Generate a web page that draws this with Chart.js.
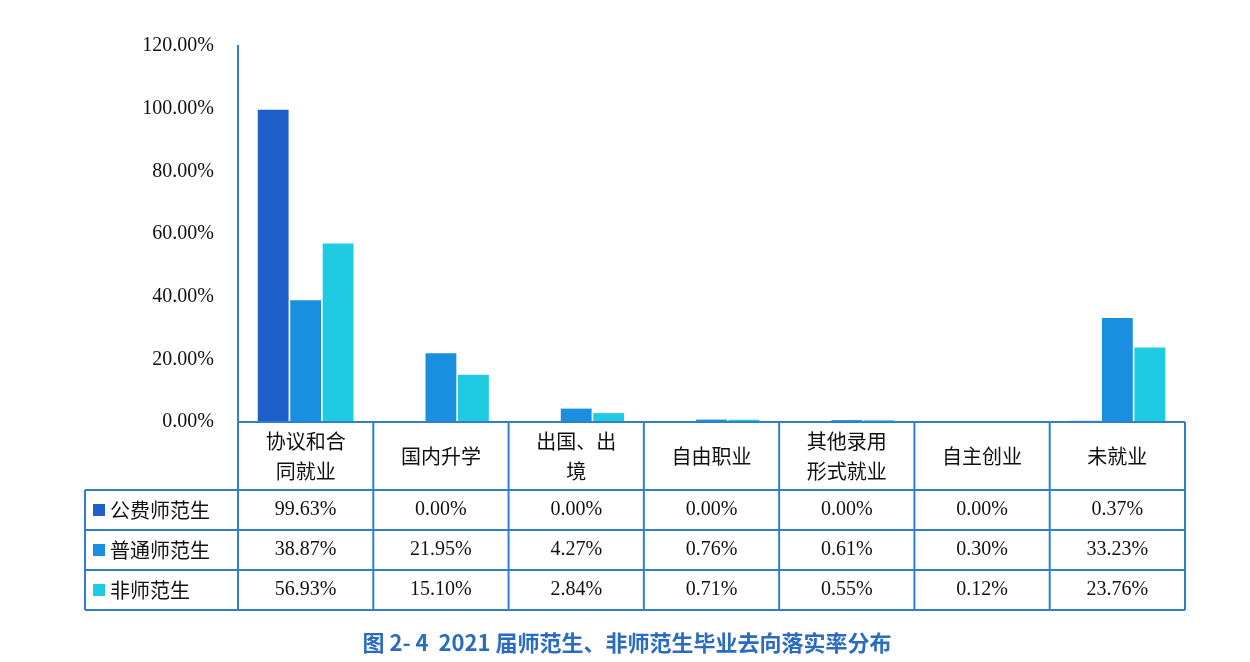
<!DOCTYPE html>
<html><head><meta charset="utf-8">
<script src="https://cdn.jsdelivr.net/npm/chart.js@4"></script>
<style>html,body{margin:0;background:#fff}#w{width:1250px;height:662px}</style>
</head><body><div id="w"><canvas id="c" width="1250" height="662"></canvas></div>
<script>
const categories=["协议和合\n同就业","国内升学","出国、出\n境","自由职业","其他录用\n形式就业","自主创业","未就业"];
const seriesNames=["公费师范生","普通师范生","非师范生"];
const gongfei=[99.63,0.00,0.00,0.00,0.00,0.00,0.37];
const putong=[38.87,21.95,4.27,0.76,0.61,0.30,33.23];
const feishifan=[56.93,15.10,2.84,0.71,0.55,0.12,23.76];
const colors=["#1f5fcc","#1a8fe0","#1ecbe3"];
const caption="图 2- 4  2021 届师范生、非师范生毕业去向落实率分布";
const serif="'Liberation Serif','DejaVu Serif',serif";
const cjk="'Noto Sans CJK SC',sans-serif";
const border="#2f7fd0";
const tablePlugin={id:'tbl',afterDraw(ch){
 const c=ch.ctx,x=ch.scales.x,a=ch.chartArea;
 const w=(a.right-a.left)/categories.length;
 const rows=[a.bottom,490,530,570,610];
 const L=85;
 c.save();c.strokeStyle=border;c.lineWidth=2;
 c.beginPath();
 c.moveTo(a.left,rows[0]);c.lineTo(a.right,rows[0]);
 for(let r=1;r<rows.length;r++){c.moveTo(L,rows[r]);c.lineTo(a.right,rows[r]);}
 c.moveTo(L,rows[1]);c.lineTo(L,rows[4]);
 for(let i=0;i<=categories.length;i++){const xx=a.left+i*w;c.moveTo(xx,rows[0]);c.lineTo(xx,rows[4]);}
 c.stroke();
 c.fillStyle="#111";c.textAlign="center";c.textBaseline="middle";
 c.font="20px "+cjk;
 categories.forEach((t,i)=>{const cx=x.getPixelForValue(i);const ls=t.split("\n");const cy=(rows[0]+rows[1])/2;
  ls.forEach((l,k)=>c.fillText(l,cx,cy+(k-(ls.length-1)/2)*30));});
 const data=[gongfei,putong,feishifan];
 data.forEach((d,r)=>{const cy=(rows[r+1]+rows[r+2])/2;
  c.font="20px "+serif;c.textAlign="center";c.fillStyle="#111";
  d.forEach((v,i)=>c.fillText(v.toFixed(2)+"%",x.getPixelForValue(i),cy));
  c.fillStyle=colors[r];c.fillRect(93,cy-6,12,12);
  c.fillStyle="#111";c.textAlign="left";c.font="20px "+cjk;c.fillText(seriesNames[r],110,cy);});
 c.textAlign="center";c.fillStyle="#2a6cc0";c.font="bold 22px "+cjk;
 c.fillText(caption,627,643);
 c.restore();}};
new Chart(document.getElementById('c'),{type:'bar',
 data:{labels:categories,datasets:[gongfei,putong,feishifan].map((d,i)=>({label:seriesNames[i],data:d,backgroundColor:colors[i],categoryPercentage:0.72,barPercentage:0.95}))},
 options:{responsive:false,animation:false,layout:{padding:{top:46,right:65,bottom:240,left:0}},
  plugins:{legend:{display:false},tooltip:{enabled:false}},
  scales:{x:{display:false},
   y:{min:0,max:120,ticks:{stepSize:20,padding:16,color:"#111",font:{family:serif,size:20},callback:v=>v.toFixed(2)+"%"},
      grid:{display:false,drawTicks:true},border:{color:border,width:2},
      afterFit(s){s.width=238;}}}},
 plugins:[tablePlugin]});
</script></body></html>
